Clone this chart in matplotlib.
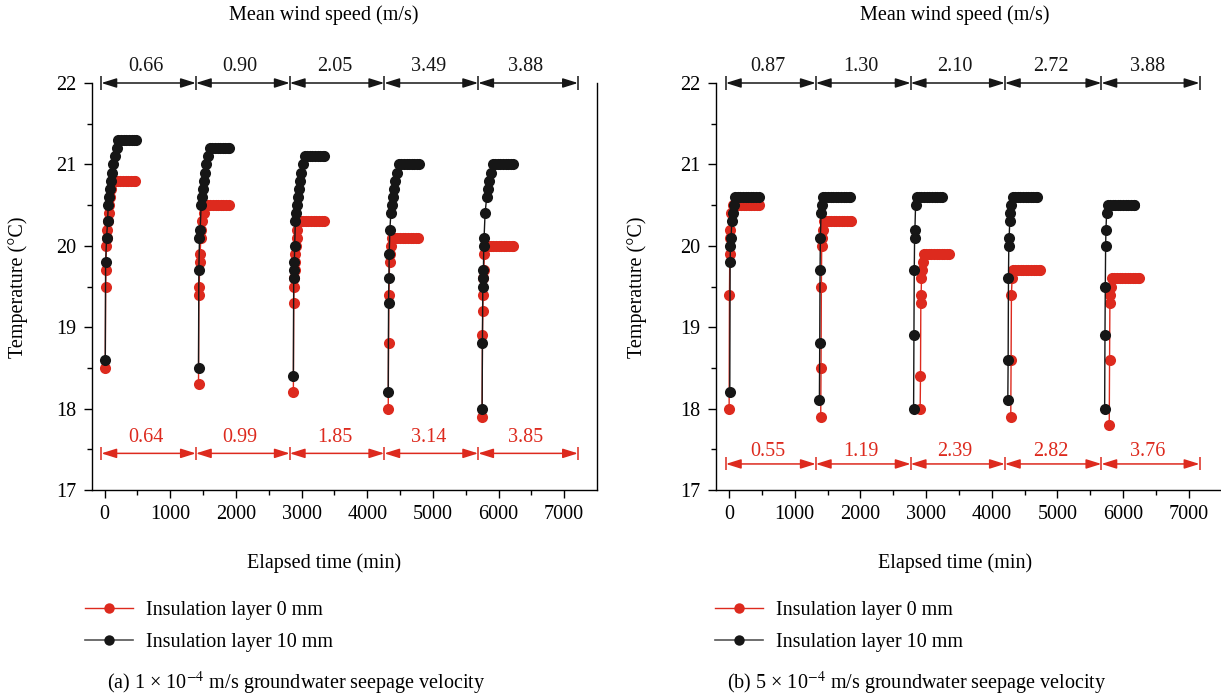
import matplotlib
matplotlib.use('Agg')
import matplotlib.pyplot as plt
from matplotlib.lines import Line2D

plt.rcParams['font.family'] = ['Liberation Serif', 'DejaVu Serif']
plt.rcParams['mathtext.fontset'] = 'stix'

RED = '#dd2a1e'
BLACK = '#161616'

# ---------- (a) 1e-4 m/s seepage ----------
a_start0 = [10, 1430, 2875, 4320, 5750]
a_start10 = [10, 1430, 2875, 4320, 5750]

a0_min = [
    [0, 5, 10, 15, 20, 30, 40, 50, 60, 75, 90, 110, 150, 190, 230, 270, 310, 350, 390, 430, 460],
    [0, 5, 10, 20, 25, 35, 45, 60, 80, 100, 140, 180, 220, 260, 300, 340, 380, 420, 460],
    [0, 5, 10, 15, 20, 25, 30, 40, 50, 60, 75, 110, 150, 190, 230, 270, 310, 350, 390, 430, 460],
    [0, 5, 10, 20, 30, 40, 60, 100, 140, 180, 220, 260, 300, 340, 380, 420, 460],
    [0, 5, 10, 15, 20, 25, 35, 50, 90, 130, 170, 210, 250, 290, 330, 370, 410, 450, 470],
]
a0_temp = [
    [18.5, 19.5, 19.7, 20.0, 20.1, 20.2, 20.3, 20.4, 20.5, 20.6, 20.7, 20.8, 20.8, 20.8, 20.8, 20.8, 20.8, 20.8, 20.8, 20.8, 20.8],
    [18.3, 19.4, 19.5, 19.8, 19.9, 20.1, 20.2, 20.3, 20.4, 20.5, 20.5, 20.5, 20.5, 20.5, 20.5, 20.5, 20.5, 20.5, 20.5],
    [18.2, 19.3, 19.5, 19.6, 19.7, 19.8, 19.9, 20.0, 20.1, 20.2, 20.3, 20.3, 20.3, 20.3, 20.3, 20.3, 20.3, 20.3, 20.3, 20.3, 20.3],
    [18.0, 18.8, 19.4, 19.8, 19.9, 20.0, 20.1, 20.1, 20.1, 20.1, 20.1, 20.1, 20.1, 20.1, 20.1, 20.1, 20.1],
    [17.9, 18.9, 19.2, 19.4, 19.6, 19.7, 19.9, 20.0, 20.0, 20.0, 20.0, 20.0, 20.0, 20.0, 20.0, 20.0, 20.0, 20.0, 20.0],
]
a10_min = [
    [0, 5, 20, 35, 45, 60, 75, 90, 105, 125, 150, 175, 200, 240, 280, 320, 360, 400, 440, 470],
    [0, 5, 15, 25, 40, 55, 70, 85, 100, 120, 145, 175, 210, 250, 290, 330, 370, 410, 450, 470],
    [0, 5, 10, 15, 20, 30, 45, 60, 75, 90, 105, 120, 140, 170, 210, 250, 290, 330, 370, 410, 450, 470],
    [0, 5, 10, 15, 25, 40, 55, 70, 90, 110, 135, 165, 200, 240, 280, 320, 360, 400, 440, 470],
    [0, 5, 10, 15, 20, 25, 30, 45, 70, 90, 110, 135, 165, 200, 240, 280, 320, 360, 400, 440, 470],
]
a10_temp = [
    [18.6, 19.8, 20.1, 20.3, 20.5, 20.6, 20.7, 20.8, 20.9, 21.0, 21.1, 21.2, 21.3, 21.3, 21.3, 21.3, 21.3, 21.3, 21.3, 21.3],
    [18.5, 19.7, 20.1, 20.2, 20.5, 20.6, 20.7, 20.8, 20.9, 21.0, 21.1, 21.2, 21.2, 21.2, 21.2, 21.2, 21.2, 21.2, 21.2, 21.2],
    [18.4, 19.6, 19.7, 19.8, 20.0, 20.3, 20.4, 20.5, 20.6, 20.7, 20.8, 20.9, 21.0, 21.1, 21.1, 21.1, 21.1, 21.1, 21.1, 21.1, 21.1, 21.1],
    [18.2, 19.3, 19.6, 19.9, 20.2, 20.4, 20.5, 20.6, 20.7, 20.8, 20.9, 21.0, 21.0, 21.0, 21.0, 21.0, 21.0, 21.0, 21.0, 21.0],
    [18.0, 18.8, 19.5, 19.6, 19.7, 20.0, 20.1, 20.4, 20.6, 20.7, 20.8, 20.9, 21.0, 21.0, 21.0, 21.0, 21.0, 21.0, 21.0, 21.0, 21.0],
]
a_wind = ['0.66', '0.90', '2.05', '3.49', '3.88']
a_air = ['0.64', '0.99', '1.85', '3.14', '3.85']
a_bounds = [-50, 1390, 2820, 4260, 5690, 7210]

# ---------- (b) 5e-4 m/s seepage ----------
b_start0 = [0, 1395, 2910, 4290, 5790]
b_start10 = [10, 1375, 2810, 4245, 5720]

b0_min = [
    [0, 5, 10, 15, 20, 35, 60, 100, 140, 180, 220, 260, 300, 340, 380, 420, 450],
    [0, 5, 10, 15, 20, 30, 45, 80, 120, 160, 200, 240, 280, 320, 360, 400, 440, 460],
    [0, 5, 10, 15, 20, 30, 40, 55, 90, 130, 170, 210, 250, 290, 330, 370, 410, 440],
    [0, 5, 10, 20, 35, 70, 110, 150, 190, 230, 270, 310, 350, 390, 430, 450],
    [0, 5, 10, 15, 25, 40, 80, 120, 160, 200, 240, 280, 320, 360, 400, 440, 450],
]
b0_temp = [
    [18.0, 19.4, 19.9, 20.1, 20.2, 20.4, 20.5, 20.5, 20.5, 20.5, 20.5, 20.5, 20.5, 20.5, 20.5, 20.5, 20.5],
    [17.9, 18.5, 19.5, 20.0, 20.1, 20.2, 20.3, 20.3, 20.3, 20.3, 20.3, 20.3, 20.3, 20.3, 20.3, 20.3, 20.3, 20.3],
    [18.0, 18.4, 19.3, 19.4, 19.6, 19.7, 19.8, 19.9, 19.9, 19.9, 19.9, 19.9, 19.9, 19.9, 19.9, 19.9, 19.9, 19.9],
    [17.9, 18.6, 19.4, 19.6, 19.7, 19.7, 19.7, 19.7, 19.7, 19.7, 19.7, 19.7, 19.7, 19.7, 19.7, 19.7],
    [17.8, 18.6, 19.3, 19.4, 19.5, 19.6, 19.6, 19.6, 19.6, 19.6, 19.6, 19.6, 19.6, 19.6, 19.6, 19.6, 19.6],
]
b10_min = [
    [0, 5, 10, 20, 30, 45, 60, 80, 120, 160, 200, 240, 280, 320, 360, 400, 440],
    [0, 5, 10, 15, 25, 35, 50, 90, 130, 170, 210, 250, 290, 330, 370, 410, 450, 460],
    [0, 5, 10, 15, 20, 30, 45, 80, 120, 160, 200, 240, 280, 320, 360, 400, 440],
    [0, 5, 10, 15, 20, 30, 40, 55, 75, 110, 150, 190, 230, 270, 310, 350, 390, 430, 450],
    [0, 5, 10, 15, 20, 30, 45, 80, 120, 160, 200, 240, 280, 320, 360, 400, 440, 450],
]
b10_temp = [
    [18.2, 19.8, 20.0, 20.1, 20.3, 20.4, 20.5, 20.6, 20.6, 20.6, 20.6, 20.6, 20.6, 20.6, 20.6, 20.6, 20.6],
    [18.1, 18.8, 19.7, 20.1, 20.4, 20.5, 20.6, 20.6, 20.6, 20.6, 20.6, 20.6, 20.6, 20.6, 20.6, 20.6, 20.6, 20.6],
    [18.0, 18.9, 19.7, 20.1, 20.2, 20.5, 20.6, 20.6, 20.6, 20.6, 20.6, 20.6, 20.6, 20.6, 20.6, 20.6, 20.6],
    [18.1, 18.6, 19.6, 20.0, 20.1, 20.3, 20.4, 20.5, 20.6, 20.6, 20.6, 20.6, 20.6, 20.6, 20.6, 20.6, 20.6, 20.6, 20.6],
    [18.0, 18.9, 19.5, 20.0, 20.2, 20.4, 20.5, 20.5, 20.5, 20.5, 20.5, 20.5, 20.5, 20.5, 20.5, 20.5, 20.5, 20.5],
]
b_wind = ['0.87', '1.30', '2.10', '2.72', '3.88']
b_air = ['0.55', '1.19', '2.39', '2.82', '3.76']
b_bounds = [-50, 1320, 2765, 4200, 5670, 7165]

W, H = 1221, 697
FS = 14.5


def fx(px):
    return px / W


def fy(py):
    return 1 - py / H


def span_arrows(ax, bounds, labels, y, ylab, color):
    for i in range(len(labels)):
        ax.annotate('', xy=(bounds[i + 1], y), xytext=(bounds[i], y),
                    arrowprops=dict(arrowstyle='<|-|>,head_length=0.7,head_width=0.22',
                                    color=color, lw=1.1, mutation_scale=13,
                                    shrinkA=0, shrinkB=0),
                    annotation_clip=False)
        ax.text((bounds[i] + bounds[i + 1]) / 2 - 40, ylab, labels[i], color=color,
                ha='center', va='center', fontsize=FS, clip_on=False)
    ax.vlines(bounds, y - 0.08, y + 0.08, color=color, lw=1.1, clip_on=False)


def draw_panel(ax, st0, m0, t0, st10, m10, t10, wind, air, bounds, y_air, y_airlab):
    for s, mm, tt in zip(st0, m0, t0):
        ax.plot([s + m for m in mm], tt, '-o', color=RED, lw=1.0, ms=8,
                mew=0, zorder=3)
    for s, mm, tt in zip(st10, m10, t10):
        ax.plot([s + m for m in mm], tt, '-o', color=BLACK, lw=1.0, ms=8,
                mew=0, zorder=4)
    ax.set_xlim(-200, 7500)
    ax.set_ylim(17, 22)
    ax.set_xticks(range(0, 8000, 1000))
    ax.set_xticks(range(500, 7500, 1000), minor=True)
    ax.set_yticks([17, 18, 19, 20, 21, 22])
    ax.set_yticks([17.5, 18.5, 19.5, 20.5, 21.5], minor=True)
    ax.tick_params(which='major', direction='out', length=6, width=1.0,
                   labelsize=FS, pad=5)
    ax.tick_params(which='minor', direction='out', length=3.5, width=1.0)
    ax.spines['top'].set_visible(False)
    for sp in ['left', 'bottom', 'right']:
        ax.spines[sp].set_linewidth(1.0)
    span_arrows(ax, bounds, wind, 22.0, 22.2, BLACK)
    span_arrows(ax, bounds, air, y_air, y_airlab, RED)


fig = plt.figure(figsize=(W / 100, H / 100), dpi=100)
ax_a = fig.add_axes([fx(91.5), fy(490), 505.5 / W, 407 / H])
ax_b = fig.add_axes([fx(716), fy(490), 505.5 / W, 407 / H])

draw_panel(ax_a, a_start0, a0_min, a0_temp, a_start10, a10_min, a10_temp,
           a_wind, a_air, a_bounds, 17.45, 17.65)
draw_panel(ax_b, b_start0, b0_min, b0_temp, b_start10, b10_min, b10_temp,
           b_wind, b_air, b_bounds, 17.32, 17.47)
ax_b.spines['right'].set_visible(False)

handles = [Line2D([], [], color=RED, lw=1.0, marker='o', ms=7.5, mew=0),
           Line2D([], [], color='#555555', lw=1.2, marker='o', ms=7.5, mew=0,
                  markerfacecolor=BLACK)]
names = ['Insulation layer 0 mm', 'Insulation layer 10 mm']

panels = [
    (85, 324, 107, '(a) 1 × 10$^{-4}$ m/s groundwater seepage velocity', 18),
    (715, 955, 727, '(b) 5 × 10$^{-4}$ m/s groundwater seepage velocity', 637),
]
for lx, cx, capx, cap, ylx in panels:
    fig.legend(handles, names, loc='upper left', bbox_to_anchor=(fx(lx), fy(601)),
               frameon=False, fontsize=FS, borderpad=0, borderaxespad=0,
               handlelength=2.4, handletextpad=0.65, labelspacing=0.65)
    fig.text(fx(cx), fy(15), 'Mean wind speed (m/s)', ha='center', va='center', fontsize=FS)
    fig.text(fx(cx), fy(563), 'Elapsed time (min)', ha='center', va='center', fontsize=FS)
    fig.text(fx(ylx), fy(287), 'Temperature (°C)', ha='center', va='center',
             rotation=90, fontsize=FS)
    fig.text(fx(capx), fy(683), cap, ha='left', va='center', fontsize=FS)

fig.savefig('out.png', dpi=100)
